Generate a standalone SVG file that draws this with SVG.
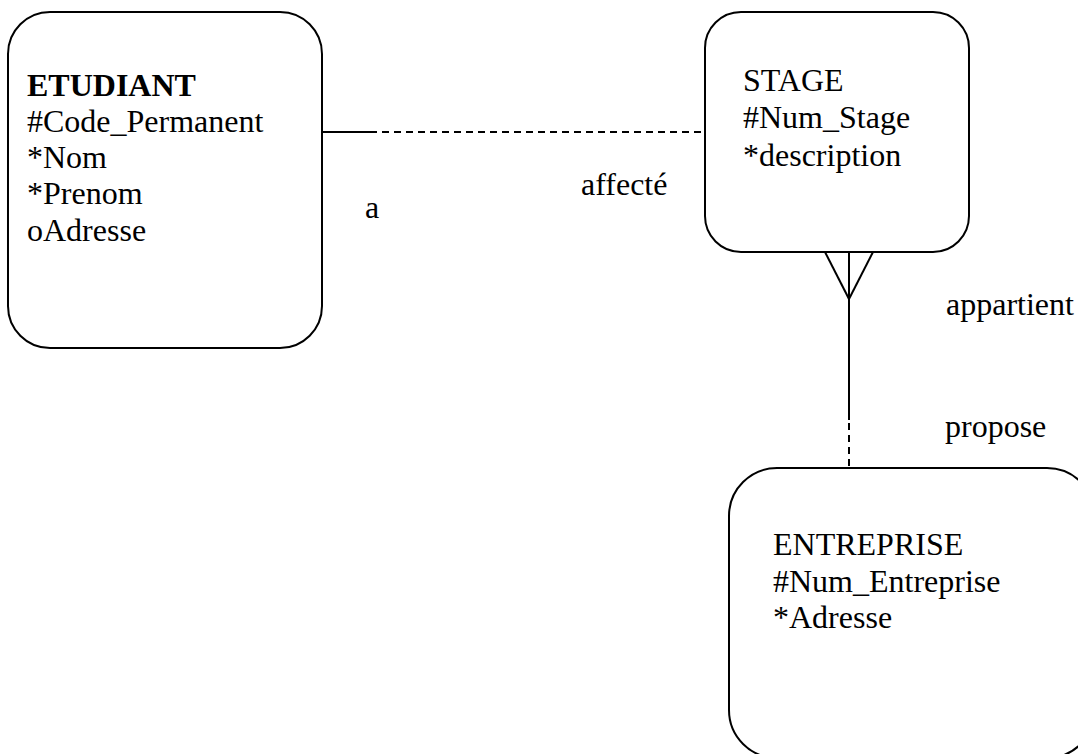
<svg xmlns="http://www.w3.org/2000/svg" width="1078" height="754" viewBox="0 0 1078 754">
  <style>
    .box { fill: #ffffff; stroke: #000000; stroke-width: 2; }
    .txt { font-family: "Liberation Serif", "Times New Roman", serif; font-size: 32px; fill: #000000; }
    .bold { font-weight: bold; }
    .solid { stroke: #000000; stroke-width: 2; fill: none; }
    .dash { stroke: #000000; stroke-width: 2; fill: none; stroke-dasharray: 7 5; }
  </style>
  <rect width="1078" height="754" fill="#ffffff"/>

  <!-- connectors -->
  <g id="connectors">
    <!-- ETUDIANT - STAGE -->
    <line class="solid" x1="322" y1="132" x2="370" y2="132"/>
    <line class="dash" x1="370" y1="132" x2="705" y2="132"/>
    <!-- STAGE - ENTREPRISE, crow's foot at STAGE -->
    <line class="solid" x1="825" y1="252" x2="849" y2="299"/>
    <line class="solid" x1="873" y1="252" x2="849" y2="299"/>
    <line class="solid" x1="849" y1="252" x2="849" y2="420"/>
    <line class="dash" x1="849" y1="423" x2="849" y2="468"/>
  </g>

  <!-- relationship labels -->
  <g id="labels">
    <text class="txt" x="365" y="218">a</text>
    <text class="txt" x="581" y="195">affecté</text>
    <text class="txt" x="946" y="315">appartient</text>
    <text class="txt" x="945" y="437">propose</text>
  </g>

  <g id="etudiant">
    <rect class="box" x="8" y="12" width="314" height="336" rx="42" ry="42"/>
    <text class="txt bold" x="27" y="96">ETUDIANT</text>
    <text class="txt" x="27" y="132">#Code_Permanent</text>
    <text class="txt" x="27" y="168">*Nom</text>
    <text class="txt" x="27" y="204">*Prenom</text>
    <text class="txt" x="27" y="241">oAdresse</text>
  </g>

  <g id="stage">
    <rect class="box" x="705" y="12" width="264" height="240" rx="36" ry="36"/>
    <text class="txt" x="743" y="91">STAGE</text>
    <text class="txt" x="743" y="128">#Num_Stage</text>
    <text class="txt" x="743" y="166">*description</text>
  </g>

  <g id="entreprise">
    <rect class="box" x="729" y="468" width="366" height="290" rx="48" ry="48"/>
    <text class="txt" x="773" y="555">ENTREPRISE</text>
    <text class="txt" x="773" y="592">#Num_Entreprise</text>
    <text class="txt" x="773" y="628">*Adresse</text>
  </g>
</svg>
